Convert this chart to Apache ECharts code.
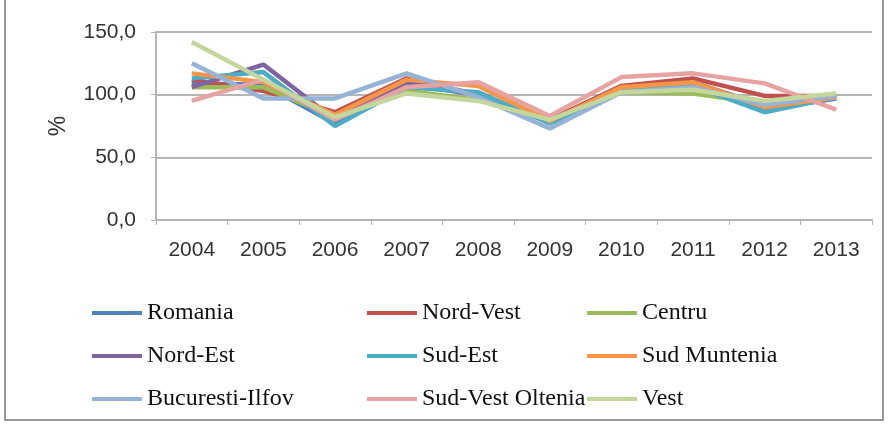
<!DOCTYPE html>
<html>
<head>
<meta charset="utf-8">
<script src="https://cdn.jsdelivr.net/npm/echarts@6/dist/echarts.min.js"></script>
<style>
html, body { margin: 0; padding: 0; background: #fff; }
#chart { width: 895px; height: 426px; }
</style>
</head>
<body>
<div id="chart"></div>
<script>
// categories
const years = ['2004', '2005', '2006', '2007', '2008', '2009', '2010', '2011', '2012', '2013']
// y tick values
const yTicks = [0, 50, 100, 150]

// series values (%)
const romania = [109, 108, 77, 108, 100, 78, 104, 108, 88, 97]
const nordVest = [112, 103, 86, 113, 100, 80, 107, 113, 99, 99]
const centru = [106, 106, 82, 103, 96, 79, 102, 101, 93, 100]
const nordEst = [106, 124, 80, 110, 100, 78, 103, 110, 91, 99]
const sudEst = [113, 118, 75, 106, 102, 77, 103, 107, 86, 98]
const sudMuntenia = [117, 110, 84, 112, 107, 79, 106, 110, 90, 98]
const bucurestiIlfov = [125, 97, 97, 117, 98, 73, 102, 106, 92, 99]
const sudVestOltenia = [95, 112, 80, 106, 110, 83, 114, 117, 109, 88]
const vest = [142, 112, 82, 101, 95, 80, 102, 104, 95, 101]

const seriesList = [
  { name: 'Romania', data: romania, color: '#4F81BD' },
  { name: 'Nord-Vest', data: nordVest, color: '#C0504D' },
  { name: 'Centru', data: centru, color: '#9BBB59' },
  { name: 'Nord-Est', data: nordEst, color: '#8064A2' },
  { name: 'Sud-Est', data: sudEst, color: '#4BACC6' },
  { name: 'Sud Muntenia', data: sudMuntenia, color: '#F79646' },
  { name: 'Bucuresti-Ilfov', data: bucurestiIlfov, color: '#95B3D7' },
  { name: 'Sud-Vest Oltenia', data: sudVestOltenia, color: '#E6A3A1' },
  { name: 'Vest', data: vest, color: '#C3D69B' }
]

const serif = '"Liberation Serif", "DejaVu Serif", serif'
const sans = '"Liberation Sans", Arial, sans-serif'

const legendText = { fontFamily: serif, fontSize: 24, color: '#111', lineHeight: 24 }

// one vertical legend per column
const legendCol = (names, left) => ({
  orient: 'vertical',
  left: left,
  top: 296,
  itemWidth: 50,
  itemHeight: 4,
  itemGap: 19,
  icon: 'rect',
  data: names,
  textStyle: legendText
})

const chart = echarts.init(document.getElementById('chart'))

chart.setOption({
  animation: false,
  grid: { left: 156, right: 23, top: 32, bottom: 206 },
  graphic: [{
    type: 'rect',
    shape: { x: 5, y: -5, width: 878, height: 425 },
    style: { fill: 'none', stroke: '#9a9a9a', lineWidth: 2 }
  }],
  legend: [
    legendCol(['Romania', 'Nord-Est', 'Bucuresti-Ilfov'], 87),
    legendCol(['Nord-Vest', 'Sud-Est', 'Sud-Vest Oltenia'], 362),
    legendCol(['Centru', 'Sud Muntenia', 'Vest'], 582)
  ],
  xAxis: {
    type: 'category',
    data: years,
    boundaryGap: true,
    axisLine: { lineStyle: { color: '#b5b5b5', width: 2 } },
    axisTick: { show: true, length: 5, lineStyle: { color: '#b5b5b5' } },
    axisLabel: { margin: 20, fontFamily: sans, fontSize: 21, color: '#333' }
  },
  yAxis: {
    type: 'value',
    min: yTicks[0],
    max: yTicks[yTicks.length - 1],
    interval: yTicks[1] - yTicks[0],
    name: '%',
    nameLocation: 'middle',
    nameGap: 86,
    nameTextStyle: { fontFamily: sans, fontSize: 23, color: '#333' },
    axisLine: { show: true, lineStyle: { color: '#b5b5b5', width: 2 } },
    axisTick: { show: true, length: 5, lineStyle: { color: '#b5b5b5' } },
    splitLine: { lineStyle: { color: '#b5b5b5', width: 2 } },
    axisLabel: {
      margin: 20,
      fontFamily: sans,
      fontSize: 21,
      color: '#333',
      formatter: v => v.toFixed(1).replace('.', ',')
    }
  },
  series: seriesList.map(s => ({
    name: s.name,
    type: 'line',
    data: s.data,
    color: s.color,
    symbol: 'none',
    lineStyle: { width: 4.5, color: s.color }
  }))
})
</script>
</body>
</html>
